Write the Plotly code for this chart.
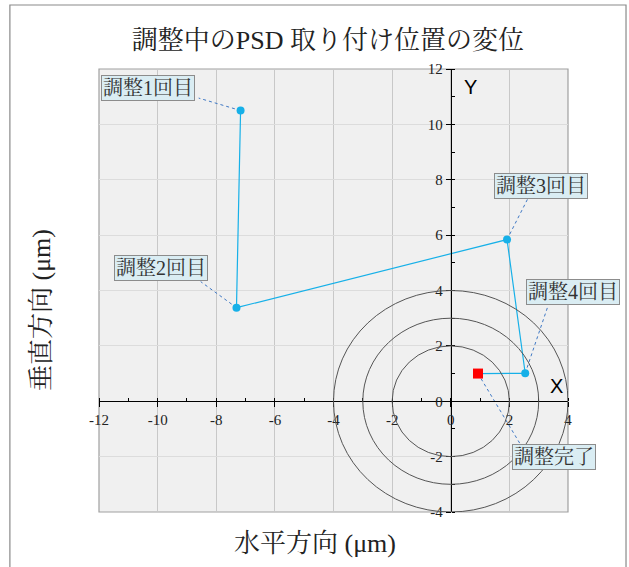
import plotly.graph_objects as go

# ---- data ----
step_labels = ["調整1回目", "調整2回目", "調整3回目", "調整4回目", "調整完了"]
x_pos = [-7.17, -7.31, 1.92, 2.54, 0.93]
y_pos = [10.5, 3.38, 5.84, 1.01, 1.0]
circle_radii = [2, 3, 4]
x_ticks = [-12, -10, -8, -6, -4, -2, 0, 2, 4]
y_ticks = [-4, -2, 0, 2, 4, 6, 8, 10, 12]
x_range = [-12, 4]
y_range = [-4, 12]

# label box centres and leader-line ends (data units)
label_x = [-10.34, -9.90, 3.09, 4.16, 3.52]
label_y = [11.30, 4.83, 7.78, 3.93, -2.02]
leader_x = [-8.60, -8.53, 2.63, 3.31, 2.35]
leader_y = [10.95, 4.32, 7.32, 3.42, -1.51]

SERIF = "Liberation Serif, Noto Serif CJK JP, Noto Sans CJK JP, serif"
BLUE = "#16b0e8"


def to_paper_x(v):
    return (v - x_range[0]) / (x_range[1] - x_range[0])


def to_paper_y(v):
    return (v - y_range[0]) / (y_range[1] - y_range[0])


fig = go.Figure()

# leader lines
for i in range(len(step_labels)):
    fig.add_trace(go.Scatter(
        x=[x_pos[i], leader_x[i]], y=[y_pos[i], leader_y[i]],
        mode="lines", line=dict(color="#3f78c4", width=1, dash="dot"),
        hoverinfo="skip", showlegend=False, cliponaxis=False))

# path
fig.add_trace(go.Scatter(
    x=x_pos, y=y_pos, mode="lines",
    line=dict(color=BLUE, width=1.2), showlegend=False, hoverinfo="skip"))
fig.add_trace(go.Scatter(
    x=x_pos[:-1], y=y_pos[:-1], mode="markers",
    marker=dict(color=BLUE, size=8, symbol="circle"), showlegend=False))
fig.add_trace(go.Scatter(
    x=x_pos[-1:], y=y_pos[-1:], mode="markers",
    marker=dict(color="#ff0000", size=10, symbol="square"), showlegend=False))

shapes = []
for r in circle_radii:
    shapes.append(dict(type="circle", xref="x", yref="y", x0=-r, x1=r, y0=-r, y1=r,
                       line=dict(color="#555555", width=1), layer="above"))
# plot border
shapes.append(dict(type="rect", xref="x domain", yref="y domain", x0=0, x1=1, y0=0, y1=1,
                   line=dict(color="#a0a0a0", width=1.2), layer="below"))
# outer frame
shapes.append(dict(type="rect", xref="paper", yref="paper", x0=-0.19, x1=1.1237,
                   y0=-0.16, y1=1.1445, line=dict(color="#8a8a8a", width=1.2)))

annotations = []
for i, t in enumerate(step_labels):
    annotations.append(dict(
        x=to_paper_x(label_x[i]), y=to_paper_y(label_y[i]), xref="paper", yref="paper",
        xanchor="center", yanchor="middle", text=t, showarrow=False,
        font=dict(family=SERIF, size=20, color="#333333"),
        bgcolor="#daedf3", bordercolor="#8c8c8c", borderwidth=1, borderpad=1))
annotations += [
    dict(x=0.68, y=11.35, xref="x", yref="y", text="Y", showarrow=False,
         xanchor="center", yanchor="middle",
         font=dict(family="Liberation Sans, Arial", size=20, color="black")),
    dict(x=3.62, y=0.55, xref="x", yref="y", text="X", showarrow=False,
         xanchor="center", yanchor="middle",
         font=dict(family="Liberation Sans, Arial", size=20, color="black")),
    dict(x=0.46, y=-0.07, xref="paper", yref="paper", text="水平方向 (μm)", showarrow=False,
         xanchor="center", yanchor="middle",
         font=dict(family=SERIF, size=26, color="#222222")),
    dict(x=-0.1215, y=0.456, xref="paper", yref="paper", text="垂直方向 (μm)", showarrow=False,
         xanchor="center", yanchor="middle",
         textangle=-90, font=dict(family=SERIF, size=26, color="#222222")),
]

axis_common = dict(
    showline=True, linecolor="black", linewidth=1.2,
    ticks="outside", ticklen=5, tickcolor="black",
    minor=dict(dtick=1, ticks="inside", ticklen=3, tickcolor="black", showgrid=False),
    showgrid=True, gridwidth=1, zeroline=False,
    tickfont=dict(family=SERIF, size=15, color="#222222"),
)

fig.update_layout(
    width=629, height=567,
    margin=dict(l=99, r=61, t=69, b=55),
    paper_bgcolor="white", plot_bgcolor="#f0f0f0",
    title=dict(text="調整中のPSD 取り付け位置の変位", x=0.488, xref="paper", xanchor="center",
               y=1 - 40 / 567, yref="container", yanchor="middle",
               font=dict(family=SERIF, size=26, color="#222222")),
    shapes=shapes, annotations=annotations,
    xaxis=dict(range=x_range, anchor="free", position=to_paper_y(0),
               tickvals=x_ticks, ticktext=[str(v) for v in x_ticks],
               gridcolor="#c8c8c8", **axis_common),
    yaxis=dict(range=y_range, anchor="free", position=to_paper_x(0),
               tickvals=y_ticks, ticktext=[str(v) for v in y_ticks],
               gridcolor="#dcdcdc", **axis_common),
)

fig.write_html(
    "out.html",
    config={"displayModeBar": False},
    post_script="document.body.style.margin='0';document.body.style.overflow='hidden';",
)
